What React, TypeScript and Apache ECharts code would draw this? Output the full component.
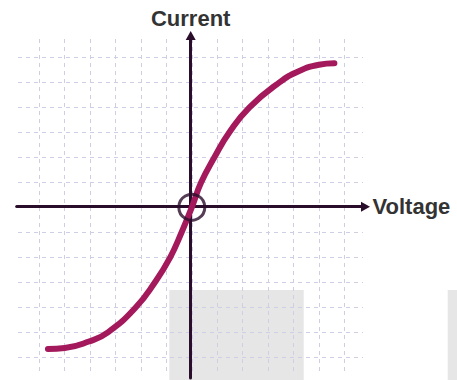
import React, { useEffect, useRef } from "react";
import * as echarts from "echarts";

// I–V curve (x = voltage units, y = current units, one grid cell = 1)
const voltage = [-5.66, -5, -4.05, -3.3, -2.2, -1.45, -0.85, -0.4, 0, 0.37, 0.89, 1.48, 2.27, 3.45, 4.2, 5, 5.61];
const current = [-5.67, -5.63, -5.37, -5, -4, -3, -2, -1, 0, 1, 2, 3, 4, 5, 5.44, 5.7, 5.76];
const origin = [[0, 0]];
const axisNames = { x: "Voltage", y: "Current" };

const FONT = "'Liberation Sans', Arial, Helvetica, sans-serif";
const GRID_COLOR = "#cfcfe4";
const AXIS_COLOR = "#2a0d2a";
const CURVE_COLOR = "#a3195b";

export default function App() {
  const ref = useRef<HTMLDivElement>(null);
  useEffect(() => {
    if (!ref.current) return;
    const chart = echarts.init(ref.current, null, { renderer: "svg" });
    const hiddenAxis = { show: false, min: -6, max: 6 };
    const dashed = { show: true, lineStyle: { color: GRID_COLOR, width: 1, type: [4, 4] as any } };
    chart.setOption({
      animation: false,
      backgroundColor: "#ffffff",
      graphic: {
        z: -10,
        elements: [
          { type: "rect", z: -10, shape: { x: 169.3, y: 290, width: 134.4, height: 90 }, style: { fill: "#e6e6e6" } },
          { type: "rect", z: -10, shape: { x: 447.7, y: 290, width: 10, height: 90 }, style: { fill: "#e6e6e6" } },
        ],
      },
      grid: [
        // vertical dashed lines
        { left: 39.3, right: 112.7, top: 39, bottom: 7 },
        // horizontal dashed lines
        { left: 18, right: 94, top: 57.3, bottom: 22.7 },
        // data area
        { left: 39.3, right: 112.7, top: 57.3, bottom: 22.7 },
        // x axis line
        { left: 16.7, right: 91.5, top: 100, bottom: 173.3 },
        // y axis line
        { left: 190.7, right: 100, top: 35.5, bottom: 2 },
      ],
      xAxis: [
        {
          gridIndex: 0, type: "value", min: -6, max: 6, interval: 1,
          axisLine: { show: false }, axisTick: { show: false }, axisLabel: { show: false },
          splitLine: dashed,
        },
        { gridIndex: 1, type: "value", ...hiddenAxis },
        { gridIndex: 2, type: "value", ...hiddenAxis },
        {
          gridIndex: 3, type: "value", min: -6, max: 6,
          name: axisNames.x, nameLocation: "end", nameGap: 7,
          nameTextStyle: { fontFamily: FONT, fontWeight: "bold", fontSize: 22, color: "#333333", verticalAlign: "middle" },
          axisLine: { show: true, onZero: false, symbol: ["none", "triangle"], symbolSize: [10, 9], lineStyle: { color: AXIS_COLOR, width: 3 } },
          axisTick: { show: false }, axisLabel: { show: false }, splitLine: { show: false },
        },
        { gridIndex: 4, type: "value", ...hiddenAxis },
      ],
      yAxis: [
        { gridIndex: 0, type: "value", ...hiddenAxis },
        {
          gridIndex: 1, type: "value", min: -6, max: 6, interval: 1,
          axisLine: { show: false }, axisTick: { show: false }, axisLabel: { show: false },
          splitLine: dashed,
        },
        { gridIndex: 2, type: "value", ...hiddenAxis },
        { gridIndex: 3, type: "value", ...hiddenAxis },
        {
          gridIndex: 4, type: "value", min: -6, max: 6, position: "left",
          name: axisNames.y, nameLocation: "end", nameGap: 6,
          nameTextStyle: { fontFamily: FONT, fontWeight: "bold", fontSize: 22, color: "#333333", align: "center" },
          axisLine: { show: true, onZero: false, symbol: ["none", "triangle"], symbolSize: [10, 9], lineStyle: { color: AXIS_COLOR, width: 3 } },
          axisTick: { show: false }, axisLabel: { show: false }, splitLine: { show: false },
        },
      ],
      series: [
        {
          type: "line",
          xAxisIndex: 2,
          yAxisIndex: 2,
          data: voltage.map((v, i) => [v, current[i]]),
          smooth: 0.5,
          showSymbol: false,
          clip: false,
          lineStyle: { color: CURVE_COLOR, width: 6, cap: "round", join: "round" },
          z: 3,
        },
        {
          type: "scatter",
          xAxisIndex: 2,
          yAxisIndex: 2,
          data: origin,
          symbol: "circle",
          symbolSize: 26,
          itemStyle: { color: "rgba(0,0,0,0)", borderColor: AXIS_COLOR, borderWidth: 3 },
          z: 5,
        },
      ],
    });
    return () => chart.dispose();
  }, []);
  return <div ref={ref} style={{ position: "fixed", left: 0, top: 0, width: 457, height: 380 }} />;
}
